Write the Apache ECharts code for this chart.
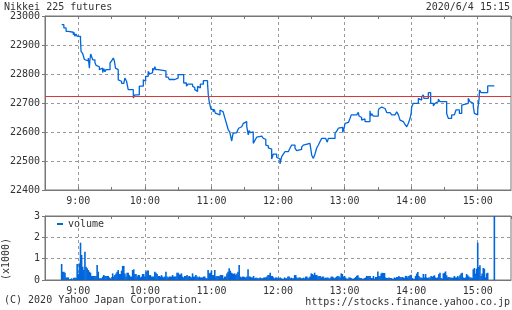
<!DOCTYPE html>
<html><head><meta charset="utf-8">
<script src="https://cdn.jsdelivr.net/npm/echarts@6/dist/echarts.min.js"></script>
<style>html,body{margin:0;padding:0;background:#fff}#c{width:512px;height:310px}</style>
</head><body><div id="c"></div>
<script>
const chartTitle = 'Nikkei 225 futures';
const stampText = '2020/6/4 15:15';
const copyrightText = '(C) 2020 Yahoo Japan Corporation.';
const urlText = 'https://stocks.finance.yahoo.co.jp';
const hourLabels = ['9:00','10:00','11:00','12:00','13:00','14:00','15:00'];
const prevClose = 22725;
// minutes after 8:30
const priceTimes = [15,17,19,21,25.5,26,27,28,29,32,32.5,34,35.5,37,39,40,40.5,41.2,43,45,46,47.5,49,50.5,52,53,54,55,58.6,60,61.6,62.5,63.5,65,66,67.5,69,71,72,73.5,75,79.6,81,85,88.6,90,90.7,93,94.5,96,97,98,99,100,102,109,111,112,114,115.5,117,118.5,120,125,127.5,129,133,134,135,136.5,137.5,138.5,140,142.7,146.5,147.2,148,149.6,151.5,152.5,153.5,154.7,157.7,159,160.5,162.2,163.5,165.2,166.5,168.3,169.5,171,172.8,174.5,176,177.3,178.8,180.3,181.8,183.2,184,185,186.5,187.7,189.3,190.8,192.3,195.3,196.8,198.3,199,199.8,201.3,202.8,204.3,205.8,208.8,210.3,211.8,213.3,214.8,216.3,219.3,220.8,222.3,225.3,226.8,228.3,231.3,232.8,234.3,238.8,240.4,241.9,243.4,244.9,246.4,247.9,249.4,253,254.4,255.4,261.4,262.9,264.4,266,268.3,269.5,270.4,272,273.5,274.9,276,281,282.4,283,284,285.4,286.9,288.4,292.9,293.5,294.4,295.9,300.4,301,302,303.5,305,306.5,308,311,312.5,315.5,317,317.5,318.5,320,321.5,323,324.5,326,327.5,329,330,330.5,332,336.5,338,339.5,341,341.5,345.5,347.6,350,351.5,353,354.5,356,362,363.5,366.5,369,370.4,373.5,375.6,377,381.5,383,384.5,386,387,388.1,390,390.7,391.3,391.6,393,399,405];
const priceValues = [22970,22959,22947,22944,22935,22944,22930,22938,22930,22918,22878,22870,22850,22845,22855,22820,22850,22869,22849,22840,22830,22825,22815,22820,22805,22818,22808,22815,22838,22845,22855,22845,22820,22815,22780,22775,22768,22772,22786,22775,22746,22717,22728,22758,22780,22775,22792,22809,22800,22805,22820,22813,22825,22815,22811,22789,22785,22781,22776,22781,22776,22786,22798,22769,22758,22765,22758,22753,22746,22740,22758,22752,22765,22777,22766,22728,22705,22678,22670,22678,22665,22659,22676,22670,22665,22647,22630,22607,22600,22569,22595,22598,22603,22613,22618,22624,22630,22636,22620,22590,22605,22598,22600,22561,22572,22582,22586,22582,22578,22575,22555,22552,22545,22541,22507,22524,22513,22507,22490,22515,22524,22532,22538,22544,22555,22544,22536,22540,22548,22555,22561,22558,22520,22509,22525,22545,22555,22567,22578,22578,22565,22578,22595,22603,22613,22616,22598,22612,22630,22633,22630,22647,22659,22659,22668,22655,22650,22641,22645,22636,22673,22655,22663,22655,22673,22680,22686,22687,22681,22676,22667,22664,22659,22664,22670,22667,22659,22641,22636,22631,22626,22618,22630,22647,22664,22687,22699,22716,22710,22721,22728,22716,22736,22699,22690,22699,22705,22713,22705,22664,22647,22659,22664,22676,22664,22693,22699,22716,22705,22699,22688,22664,22659,22676,22699,22716,22745,22736,22759,22759];
const volumeStart = 15; // first bar, minutes after 8:30, one bar per minute (x1000)
const volumeValues = [
0.75,0.38,0.39,0.34,0.12,0.12,0.12,0.03,0.05,0.08,
0.03,0.11,0.11,0.11,0.75,0.28,0.78,1.75,1.17,0.62,
0.47,1.33,0.62,0.55,0.47,0.39,0.34,0.19,0.19,0.19,
0.19,0.19,0.70,0.39,0.08,0.08,0.08,0.16,0.23,0.19,
0.19,0.19,0.19,0.12,0.08,0.03,0.31,0.16,0.23,0.30,
0.39,0.47,0.28,0.28,0.44,0.66,0.66,0.31,0.16,0.34,
0.34,0.23,0.16,0.16,0.47,0.50,0.28,0.28,0.16,0.23,
0.23,0.12,0.16,0.28,0.28,0.16,0.39,0.44,0.44,0.23,
0.23,0.16,0.16,0.16,0.39,0.34,0.28,0.19,0.19,0.16,
0.23,0.16,0.12,0.16,0.39,0.16,0.12,0.16,0.16,0.16,
0.23,0.16,0.16,0.16,0.34,0.34,0.26,0.26,0.31,0.16,
0.12,0.19,0.19,0.23,0.16,0.19,0.16,0.12,0.31,0.16,
0.16,0.23,0.16,0.12,0.16,0.12,0.12,0.12,0.16,0.16,
0.08,0.08,0.47,0.31,0.34,0.44,0.23,0.23,0.47,0.16,
0.19,0.19,0.16,0.23,0.23,0.23,0.08,0.16,0.16,0.31,
0.39,0.55,0.44,0.34,0.31,0.28,0.31,0.23,0.31,0.39,
0.70,0.16,0.12,0.16,0.16,0.12,0.12,0.16,0.50,0.16,
0.16,0.12,0.12,0.19,0.08,0.11,0.11,0.08,0.08,0.12,
0.08,0.08,0.11,0.12,0.12,0.16,0.23,0.23,0.34,0.19,
0.19,0.12,0.08,0.12,0.12,0.08,0.08,0.12,0.08,0.06,
0.06,0.12,0.08,0.08,0.16,0.16,0.08,0.11,0.08,0.08,
0.23,0.23,0.12,0.08,0.12,0.12,0.08,0.08,0.11,0.08,
0.16,0.16,0.08,0.12,0.16,0.31,0.28,0.23,0.34,0.23,
0.23,0.16,0.19,0.19,0.12,0.16,0.16,0.08,0.11,0.11,
0.12,0.08,0.08,0.16,0.16,0.12,0.08,0.12,0.16,0.19,
0.16,0.12,0.31,0.28,0.16,0.19,0.11,0.06,0.06,0.12,
0.12,0.09,0.06,0.06,0.09,0.14,0.20,0.22,0.12,0.09,
0.09,0.06,0.06,0.09,0.12,0.19,0.19,0.19,0.19,0.09,
0.09,0.19,0.06,0.14,0.14,0.40,0.19,0.19,0.30,0.34,
0.33,0.33,0.12,0.09,0.09,0.12,0.09,0.09,0.06,0.06,
0.12,0.09,0.14,0.14,0.19,0.14,0.12,0.14,0.12,0.09,
0.19,0.19,0.12,0.19,0.22,0.25,0.09,0.06,0.06,0.19,
0.30,0.38,0.19,0.12,0.12,0.09,0.28,0.12,0.28,0.12,
0.09,0.12,0.12,0.19,0.14,0.19,0.22,0.12,0.09,0.12,
0.28,0.34,0.09,0.06,0.31,0.34,0.40,0.22,0.12,0.14,
0.12,0.12,0.09,0.12,0.19,0.12,0.12,0.19,0.12,0.22,
0.30,0.34,0.12,0.09,0.12,0.28,0.22,0.16,0.12,0.12,
0.09,0.50,0.56,0.30,0.53,1.75,0.61,0.69,0.19,0.30,
0.56,0.53,0.12,0.31,0.34,0,0,0,0,0,
3.0];

const FONT = 'DejaVu Sans Mono';
const FS = 10;
const TXT = '#333';
const BLUE = '#0066dd';
const AX = '#777';
const GRIDC = '#999';

const priceData = priceTimes.map((t, i) => [t, priceValues[i]]);
const volumeData = volumeValues.map((v, i) => [volumeStart + i, v]);

function hourFmt(m) {
  if ((m - 30) % 60 === 0) { const k = (m - 30) / 60; return hourLabels[k] || ''; }
  return '';
}
function xBottom(gi) {
  return {
    type: 'value', gridIndex: gi, min: 0, max: 420, interval: 30, position: 'bottom',
    axisLine: { show: true, lineStyle: { color: AX } },
    axisTick: { show: true, inside: true, length: 3, lineStyle: { color: AX } },
    axisLabel: { formatter: hourFmt, color: TXT, fontFamily: FONT, fontSize: FS, margin: 6, showMinLabel: false, showMaxLabel: false },
    splitLine: { show: true, lineStyle: { color: ['rgba(0,0,0,0)', GRIDC], type: [3, 3], width: 1 } }
  };
}
function xTop(gi) {
  return {
    type: 'value', gridIndex: gi, min: 0, max: 420, interval: 30, position: 'top',
    axisLine: { show: true, lineStyle: { color: AX } },
    axisTick: { show: true, inside: true, length: 3, lineStyle: { color: AX } },
    axisLabel: { show: false }, splitLine: { show: false }
  };
}
const plainNum = v => String(v);
const txtStyle = { fontFamily: FONT, fontSize: FS, fontWeight: 'normal', color: TXT };

const chart = echarts.init(document.getElementById('c'), null, { renderer: 'canvas' });
chart.setOption({
  animation: false,
  backgroundColor: '#fff',
  textStyle: { fontFamily: FONT },
  title: [
    { text: chartTitle, left: 4, top: 2, padding: 0, textStyle: txtStyle },
    { text: stampText, right: 2, top: 2, padding: 0, textStyle: txtStyle },
    { text: copyrightText, left: 4, top: 295, padding: 0, textStyle: txtStyle },
    { text: urlText, right: 2, top: 297, padding: 0, textStyle: txtStyle }
  ],
  legend: {
    data: ['volume'], left: 57, top: 219, padding: 0, icon: 'rect', itemWidth: 6, itemHeight: 2, itemGap: 6,
    textStyle: { fontFamily: FONT, fontSize: FS, color: TXT, padding: [0, 0, 0, 0] }
  },
  graphic: [
    { type: 'text', x: 6, y: 259, rotation: Math.PI / 2,
      style: { text: '(x1000)', fill: TXT, font: FS + 'px "DejaVu Sans Mono"', align: 'center', verticalAlign: 'middle' } }
  ],
  grid: [
    { left: 45, top: 16, width: 466, height: 174, show: true, borderColor: AX, borderWidth: 1 },
    { left: 45, top: 216, width: 466, height: 64, show: true, borderColor: AX, borderWidth: 1 }
  ],
  xAxis: [xBottom(0), xTop(0), xBottom(1), xTop(1)],
  yAxis: [
    { type: 'value', gridIndex: 0, min: 22400, max: 23000, interval: 100,
      axisLine: { show: true, lineStyle: { color: AX } },
      axisTick: { show: true, length: 3, lineStyle: { color: AX } },
      axisLabel: { formatter: plainNum, color: TXT, fontFamily: FONT, fontSize: FS, margin: 5 },
      splitLine: { show: true, lineStyle: { color: GRIDC, type: [3, 3] } } },
    { type: 'value', gridIndex: 1, min: 0, max: 3, interval: 1,
      axisLine: { show: true, lineStyle: { color: AX } },
      axisTick: { show: true, length: 3, lineStyle: { color: AX } },
      axisLabel: { formatter: plainNum, color: TXT, fontFamily: FONT, fontSize: FS, margin: 5 },
      splitLine: { show: true, lineStyle: { color: GRIDC, type: [3, 3] } } }
  ],
  series: [
    { name: 'price', type: 'line', xAxisIndex: 0, yAxisIndex: 0, data: priceData, step: 'end',
      showSymbol: false, symbol: 'none', lineStyle: { color: BLUE, width: 1.3 }, itemStyle: { color: BLUE },
      markLine: { silent: true, symbol: 'none', label: { show: false },
        lineStyle: { color: '#d83a3a', width: 1, type: 'solid' }, data: [{ yAxis: prevClose }] },
      z: 3 },
    { name: 'volume', type: 'bar', xAxisIndex: 2, yAxisIndex: 1, data: volumeData, barWidth: 1.6,
      itemStyle: { color: BLUE }, large: false }
  ]
});
</script></body></html>
